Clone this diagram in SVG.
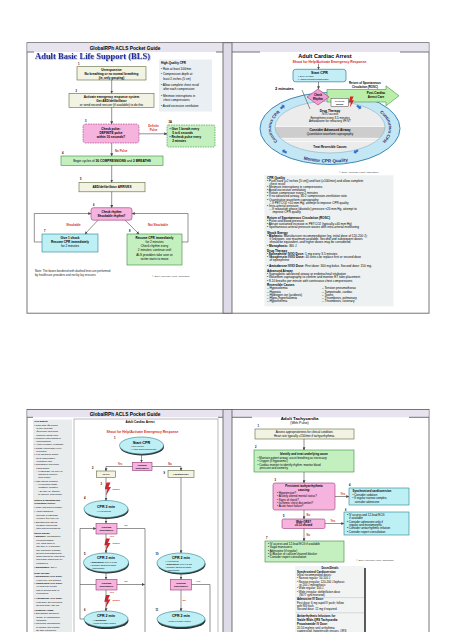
<svg xmlns="http://www.w3.org/2000/svg" width="474" height="632" viewBox="0 0 474 632">
<defs>
<style>
text{font-family:"Liberation Sans",Arial,sans-serif}
.b{font-weight:bold}
.m{text-anchor:middle}
.r{fill:#d42a2a;font-weight:bold}
.n{font-size:2.6px;font-weight:bold}
.ln{stroke:#4a4a4a;stroke-width:0.6;fill:none}
.ar{marker-end:url(#ah)}
.cream{fill:#f3f3e3;stroke:#5a6a3a;stroke-width:0.6}
.green{fill:#c4f0c0;stroke:#3a8a3a;stroke-width:0.6}
.pink{fill:#f5b3de;stroke:#9a3a7a;stroke-width:0.6}
.cyan{fill:#bdf0f5;stroke:#2a8090;stroke-width:0.6}
.dash{stroke-dasharray:1.6 0.9}
.ell{fill:#bdeff5;stroke:#2a8090;stroke-width:0.6}
.shd{fill:#333}
.fr{fill:none;stroke:#666;stroke-width:0.9}
</style>
<marker id="ah" viewBox="0 0 6 6" refX="5.5" refY="3" markerWidth="3" markerHeight="3" markerUnits="userSpaceOnUse" orient="auto"><path d="M0,0 L6,3 L0,6 Z" fill="#4a4a4a"/></marker>
<path id="ra" d="M-2.6,-1.3 L0.4,-1.3 L0.4,-2.8 L3,0 L0.4,2.8 L0.4,1.3 L-2.6,1.3 Z"/>
<path id="bolt" d="M2,0 L6,0 L4,4.5 L6.5,4.5 L1.5,13 L2.8,6.8 L0.3,6.8 Z"/>
<clipPath id="inner"><ellipse cx="330" cy="127" rx="55" ry="26"/></clipPath>
<path id="pL" d="M278.9,142.5 A59,29 0 0 1 281.7,111.4"/>
<path id="pR" d="M378.3,111.4 A59,29 0 0 1 381.1,142.5"/>
<path id="pB" d="M287.6,154.5 A66,34 0 0 0 372.4,154.5"/>
<filter id="tsh" x="-5%" y="-20%" width="110%" height="140%"><feDropShadow dx="0.6" dy="0.6" stdDeviation="0.25" flood-color="#8a90c0"/></filter>
</defs>
<rect width="474" height="632" fill="#fff"/>

<g id="page-frames">
<rect x="27" y="42.7" width="402" height="270.5" fill="#fff" stroke="#666" stroke-width="0.9"/>
<rect x="27.5" y="43.2" width="195.5" height="8.8" fill="#e7e4ef"/>
<rect x="232" y="43.2" width="196.5" height="8.8" fill="#e7e4ef"/>
<rect x="223" y="42.7" width="9" height="270.5" fill="#dedae8" stroke="#666" stroke-width="0.9"/>
<path class="fr" d="M27,52H34M216,52H223M232,52H260M400,52H429"/>
<rect x="27" y="409.5" width="402" height="240" fill="#fff" stroke="#666" stroke-width="0.9"/>
<rect x="27.5" y="410" width="195.5" height="7.3" fill="#e7e4ef"/>
<rect x="232" y="410" width="196.5" height="7.3" fill="#e7e4ef"/>
<rect x="223" y="409.5" width="9" height="240" fill="#dedae8" stroke="#666" stroke-width="0.9"/>
<path class="fr" d="M27,417.3H33M218,417.3H223M232,417.3H252M409,417.3H429"/>
<text x="125" y="49.8" class="b m" font-size="4.8">GlobalRPh ACLS Pocket Guide</text>
<text x="125" y="415.6" class="b m" font-size="4.8">GlobalRPh ACLS Pocket Guide</text>
</g>

<!-- ============ BLS panel ============ -->
<g id="bls-title">
<text x="35" y="58.6" style="font-family:'Liberation Serif','Times New Roman',serif;fill:#1f2a9a" font-weight="bold" font-size="8.6" textLength="115" lengthAdjust="spacingAndGlyphs" filter="url(#tsh)">Adult Basic Life Support (BLS)</text>
</g>

<g id="bls-hq-cpr">
<rect x="159" y="59.5" width="53" height="52" fill="#e9eff3"/>
<text font-size="3"><tspan x="161" y="63.8" class="b">High-Quality CPR</tspan><tspan x="161" y="70.2">• Rate at least 100/min</tspan><tspan x="161" y="75">• Compression depth at</tspan><tspan x="163.2" y="79.5">least 2 inches (5 cm)</tspan><tspan x="161" y="85.8">• Allow complete chest recoil</tspan><tspan x="163.2" y="90.2">after each compression</tspan><tspan x="161" y="96.6">• Minimize interruptions in</tspan><tspan x="163.2" y="101">chest compressions</tspan><tspan x="161" y="107.4">• Avoid excessive ventilation</tspan></text>
</g>

<g id="bls-1">
<text x="78" y="64.8" class="n">1</text>
<rect x="77" y="66.7" width="69" height="13.3" class="cream"/>
<text class="m b" font-size="3.1"><tspan x="111.5" y="70.9">Unresponsive</tspan><tspan x="111.5" y="74.9">No breathing or no normal breathing</tspan><tspan x="111.5" y="78.7">(ie, only gasping)</tspan></text>
</g>

<g id="bls-2">
<text x="75.5" y="91.5" class="n">2</text>
<rect x="69" y="93.3" width="85" height="14" class="cream"/>
<text class="m" font-size="3.1"><tspan x="111.5" y="97.5" class="b">Activate emergency response system</tspan><tspan x="111.5" y="101.5" class="b">Get AED/defibrillator</tspan><tspan x="111.5" y="105.5">or send second rescuer (if available) to do this</tspan></text>
</g>

<g id="bls-3">
<text x="85" y="122" class="n">3</text>
<rect x="83" y="124" width="56" height="19" rx="2.5" class="pink dash"/>
<text class="m b" font-size="3.1"><tspan x="111" y="129.8">Check pulse:</tspan><tspan x="111" y="133.8">DEFINITE pulse</tspan><tspan x="111" y="137.8">within 10 seconds?</tspan></text>
</g>

<g id="bls-3a">
<text x="168.5" y="123" class="n">3A</text>
<rect x="167" y="125" width="48" height="22" rx="1.5" class="green dash"/>
<text class="b" font-size="3"><tspan x="169.5" y="130">• Give 1 breath every</tspan><tspan x="172.2" y="133.8">5 to 6 seconds</tspan><tspan x="169.5" y="137.8">• Recheck pulse every</tspan><tspan x="172.2" y="141.6">2 minutes</tspan></text>
</g>

<g id="bls-4">
<text x="62" y="153.6" class="n">4</text>
<rect x="61" y="156" width="102" height="9.3" class="green"/>
<text x="112" y="161.8" class="m" font-size="3.2">Begin cycles of <tspan class="b">30 COMPRESSIONS</tspan> and <tspan class="b">2 BREATHS</tspan></text>
</g>

<g id="bls-5">
<text x="80" y="180" class="n">5</text>
<rect x="79" y="182.3" width="66" height="9.5" class="cream"/>
<text x="112" y="188.1" class="m b" font-size="3.1">AED/defibrillator ARRIVES</text>
</g>

<g id="bls-6">
<text x="93" y="205.5" class="n">6</text>
<rect x="91" y="207.7" width="41" height="12.5" rx="2.5" class="pink"/>
<text class="m b" font-size="3"><tspan x="111.5" y="212.8">Check rhythm</tspan><tspan x="111.5" y="216.8">Shockable rhythm?</tspan></text>
</g>

<g id="bls-7">
<text x="44" y="231.8" class="n">7</text>
<rect x="42" y="234" width="56" height="18" class="cyan"/>
<text class="m" font-size="3.1"><tspan x="70" y="238.6" class="b">Give 1 shock</tspan><tspan x="70" y="242.9" class="b">Resume CPR immediately</tspan><tspan x="70" y="247.2">for 2 minutes</tspan></text>
</g>

<g id="bls-8">
<text x="129" y="231.8" class="n">8</text>
<rect x="127" y="234" width="55" height="31" class="green"/>
<text class="m" font-size="3.1"><tspan x="154.5" y="238.6" class="b">Resume CPR immediately</tspan><tspan x="154.5" y="242.5">for 2 minutes</tspan><tspan x="154.5" y="246.8">Check rhythm every</tspan><tspan x="154.5" y="251.1">2 minutes; continue until</tspan><tspan x="154.5" y="255.5">ALS providers take over or</tspan><tspan x="154.5" y="259.9">victim starts to move</tspan></text>
</g>

<g id="bls-labels">
<text class="r m" font-size="2.9"><tspan x="153.5" y="127.4">Definite</tspan><tspan x="153.5" y="130.8">Pulse</tspan></text>
<text x="115" y="151.6" class="r" font-size="2.9">No Pulse</text>
<text x="73.5" y="226.2" class="r m" font-size="2.9">Shockable</text>
<text x="158" y="226.2" class="r m" font-size="2.9">Not Shockable</text>
<text font-size="2.9" fill="#222"><tspan x="35" y="272.4">Note: The boxes bordered with dashed lines are performed</tspan><tspan x="35" y="276.4">by healthcare providers and not by lay rescuers</tspan></text>
<text x="152" y="276.6" font-size="2.4" fill="#333">© 2010 American Heart Association</text>
</g>

<g id="bls-connectors" class="ln">
<path class="ar" d="M111.7,80V93.3"/>
<path class="ar" d="M111.7,107.3V124"/>
<path class="ar" d="M139,133.8H167"/>
<path class="ar" d="M111.7,143V156"/>
<path class="ar" d="M111.7,165.3V182.3"/>
<path class="ar" d="M111.7,191.8V207.7"/>
<path class="ar" d="M98,220.2L85,234"/>
<path class="ar" d="M125,220.2L139,234"/>
<path class="ar" d="M42,242H34.3V213.5H91"/>
<path class="ar" d="M182,242H188V213.5H132"/>
</g>

<!-- ============ Circular cardiac arrest panel ============ -->
<g id="ca-title">
<text x="325" y="57.6" class="b m" font-size="5.5">Adult Cardiac Arrest</text>
<text x="329.5" y="62.8" class="r m" font-size="3.4">Shout for Help/Activate Emergency Response</text>
</g>

<g id="ca-cycle">
<ellipse cx="330" cy="128.5" rx="70" ry="36" fill="#c3e7f4" stroke="#3b88b5" stroke-width="1"/>
<ellipse cx="330" cy="127" rx="55" ry="26" fill="#ececec"/>
<g clip-path="url(#inner)">
<rect x="270" y="126.5" width="120" height="11.8" fill="#cdcdcd"/>
<path d="M270,126.5H390M270,138.3H390M270,141.5H390" stroke="#fff" stroke-width="0.7"/>
</g>
<ellipse cx="330" cy="127" rx="55" ry="26" fill="none" stroke="#7fb0c8" stroke-width="0.6"/>
<text class="m" font-size="2.9"><tspan x="330" y="111.8" class="b" font-size="3.2">Drug Therapy</tspan><tspan x="330" y="115.1">IV/IO access</tspan><tspan x="330" y="118.5">Epinephrine every 3-5 minutes</tspan><tspan x="330" y="121.8">Amiodarone for refractory VF/VT</tspan><tspan x="330" y="131.1" class="b" font-size="3.2">Consider Advanced Airway</tspan><tspan x="330" y="134.6">Quantitative waveform capnography</tspan><tspan x="330" y="147.6" class="b">Treat Reversible Causes</tspan></text>
<text class="b" font-size="4.3" style="fill:#1c2f72"><textPath href="#pL" startOffset="50%" text-anchor="middle">Continuous CPR</textPath></text>
<text class="b" font-size="4.3" style="fill:#1c2f72"><textPath href="#pR" startOffset="50%" text-anchor="middle">Continuous CPR</textPath></text>
<text class="b" font-size="4.6" style="fill:#1c2f72"><textPath href="#pB" startOffset="45%" text-anchor="middle">Monitor CPR Quality</textPath></text>
<g fill="#2f6fc4" stroke="#fff" stroke-width="0.3">
<use href="#ra" transform="translate(282.5,107) rotate(-40)"/>
<use href="#ra" transform="translate(359,107) rotate(35)"/>
<use href="#ra" transform="translate(356,151.5) rotate(150)"/>
<use href="#ra" transform="translate(284.5,151.5) rotate(-150)"/>
</g>
</g>

<g id="ca-rosc">
<polygon points="327,89.5 386,89.5 386,85.8 399,95.8 386,105.8 386,102 327,102" fill="#b9efa8" stroke="#4a9040" stroke-width="0.6"/>
<text class="m b" font-size="2.9"><tspan x="365" y="84.4">Return of Spontaneous</tspan><tspan x="365" y="87.7">Circulation (ROSC)</tspan></text>
<text class="m b" font-size="3"><tspan x="376" y="94.4">Post-Cardiac</tspan><tspan x="376" y="97.9">Arrest Care</tspan></text>
</g>

<g id="ca-shock">
<rect x="331" y="98.3" width="17.5" height="8" fill="#fff" stroke="#444" stroke-width="0.5"/>
<text class="m b" font-size="2.5"><tspan x="339.7" y="101.6">If VF/VT</tspan><tspan x="339.7" y="104.9">Shock</tspan></text>
<use href="#bolt" fill="#e0202a" transform="translate(348.5,96.5) scale(0.85)"/>
</g>

<g id="ca-check-rhythm">
<polygon points="318,89 329,97 318,105 307,97" fill="#f19fd0" stroke="#9a3a7a" stroke-width="0.6"/>
<text class="m b" font-size="2.7"><tspan x="318" y="96.4">Check</tspan><tspan x="318" y="99.6">Rhythm</tspan></text>
</g>

<g id="ca-start">
<rect x="293" y="69.3" width="53" height="12.5" rx="2.5" fill="#c4eef6" stroke="#2a7fa0" stroke-width="0.7"/>
<text x="319.5" y="73.7" class="m b" font-size="3.6">Start CPR</text>
<text font-size="2.5"><tspan x="298" y="77.2">• Give oxygen</tspan><tspan x="298" y="80.3">• Attach monitor/defibrillator</tspan></text>
</g>

<g id="ca-2min">
<text x="275" y="89.6" class="b" font-size="4">2 minutes</text>
</g>

<g id="ca-connectors" class="ln">
<path class="ar" d="M318.5,63.8V69.3"/>
<path class="ar" d="M318.5,81.8V89"/>
<path d="M302,90L310,109"/>
</g>

<g id="ca-notes">
<text x="339" y="173.4" font-size="2.5" fill="#333">© 2010 American Heart Association</text>
<rect x="264.5" y="175.3" width="129" height="131" fill="#edf1f1"/>
<text font-size="3.1">
<tspan x="267" y="178.6" class="b">CPR Quality</tspan>
<tspan x="267" y="181.8">• Push hard (≥2 inches [5 cm]) and fast (≥100/min) and allow complete</tspan>
<tspan x="269.5" y="184.9">chest recoil</tspan>
<tspan x="267" y="188">• Minimize interruptions in compressions</tspan>
<tspan x="267" y="191.1">• Avoid excessive ventilation</tspan>
<tspan x="267" y="194.2">• Rotate compressor every 2 minutes</tspan>
<tspan x="267" y="197.3">• If no advanced airway, 30:2 compression-ventilation ratio</tspan>
<tspan x="267" y="200.5">• Quantitative waveform capnography</tspan>
<tspan x="269.5" y="203.7">– If PETCO2 &lt;10 mm Hg, attempt to improve CPR quality</tspan>
<tspan x="267" y="206.9">• Intra-arterial pressure</tspan>
<tspan x="269.5" y="210.1">– If relaxation phase (diastolic) pressure &lt;20 mm Hg, attempt to</tspan>
<tspan x="272.5" y="213.3">improve CPR quality</tspan>
<tspan x="267" y="218.8" class="b">Return of Spontaneous Circulation (ROSC)</tspan>
<tspan x="267" y="222">• Pulse and blood pressure</tspan>
<tspan x="267" y="225.2">• Abrupt sustained increase in PETCO2 (typically ≥40 mm Hg)</tspan>
<tspan x="267" y="228.4">• Spontaneous arterial pressure waves with intra-arterial monitoring</tspan>
<tspan x="267" y="233.8" class="b">Shock Energy</tspan>
<tspan x="267" y="237">• <tspan class="b">Biphasic:</tspan> Manufacturer recommendation (eg, initial dose of 120-200 J);</tspan>
<tspan x="269.5" y="240.2">if unknown, use maximum available. Second and subsequent doses</tspan>
<tspan x="269.5" y="243.4">should be equivalent, and higher doses may be considered.</tspan>
<tspan x="267" y="246.6">• <tspan class="b">Monophasic:</tspan> 360 J</tspan>
<tspan x="267" y="251.8" class="b">Drug Therapy</tspan>
<tspan x="267" y="255">• <tspan class="b">Epinephrine IV/IO Dose:</tspan> 1 mg every 3-5 minutes</tspan>
<tspan x="267" y="258.2">• <tspan class="b">Vasopressin IV/IO Dose:</tspan> 40 units can replace first or second dose</tspan>
<tspan x="269.5" y="261.4">of epinephrine</tspan>
<tspan x="267" y="266.6">• <tspan class="b">Amiodarone IV/IO Dose:</tspan> First dose: 300 mg bolus. Second dose: 150 mg.</tspan>
<tspan x="267" y="272" class="b">Advanced Airway</tspan>
<tspan x="267" y="275.2">• Supraglottic advanced airway or endotracheal intubation</tspan>
<tspan x="267" y="278.4">• Waveform capnography to confirm and monitor ET tube placement</tspan>
<tspan x="267" y="281.6">• 8-10 breaths per minute with continuous chest compressions</tspan>
<tspan x="267" y="286" class="b">Reversible Causes</tspan>
<tspan x="267" y="289.3">– Hypovolemia</tspan><tspan x="322" y="289.3">– Tension pneumothorax</tspan>
<tspan x="267" y="292.5">– Hypoxia</tspan><tspan x="322" y="292.5">– Tamponade, cardiac</tspan>
<tspan x="267" y="295.7">– Hydrogen ion (acidosis)</tspan><tspan x="322" y="295.7">– Toxins</tspan>
<tspan x="267" y="298.9">– Hypo-/hyperkalemia</tspan><tspan x="322" y="298.9">– Thrombosis, pulmonary</tspan>
<tspan x="267" y="302.1">– Hypothermia</tspan><tspan x="322" y="302.1">– Thrombosis, coronary</tspan>
</text>
</g>

<!-- ============ Cardiac arrest linear panel ============ -->
<g id="ca2-sidebar">
<rect x="33" y="419.5" width="39" height="215" fill="#e9ecec"/>
<text font-size="2.35">
<tspan x="34.3" y="422.3" class="b">CPR Quality</tspan>
<tspan x="34.3" y="425.6">• Push hard (≥2 inches</tspan>
<tspan x="36.3" y="428.9">[5 cm]) and fast</tspan>
<tspan x="36.3" y="432.2">(≥100/min) and allow</tspan>
<tspan x="36.3" y="435.5">complete chest recoil</tspan>
<tspan x="34.3" y="438.8">• Minimize interruptions in</tspan>
<tspan x="36.3" y="442.1">compressions</tspan>
<tspan x="34.3" y="445.4">• Avoid excessive ventilation</tspan>
<tspan x="34.3" y="448.7">• Rotate compressor every</tspan>
<tspan x="36.3" y="452">2 minutes</tspan>
<tspan x="34.3" y="455.3">• If no advanced airway,</tspan>
<tspan x="36.3" y="458.6">30:2 compression-</tspan>
<tspan x="36.3" y="461.9">ventilation ratio</tspan>
<tspan x="34.3" y="465.2">• Quantitative waveform</tspan>
<tspan x="36.3" y="468.5">capnography</tspan>
<tspan x="36.3" y="471.8">– If PETCO2 &lt;10 mm Hg,</tspan>
<tspan x="38.3" y="475.1">attempt to improve</tspan>
<tspan x="38.3" y="478.4">CPR quality</tspan>
<tspan x="34.3" y="481.7">• Intra-arterial pressure</tspan>
<tspan x="36.3" y="485">– If relaxation phase</tspan>
<tspan x="38.3" y="488.3">(diastolic) pressure</tspan>
<tspan x="38.3" y="491.6">&lt;20 mm Hg, attempt</tspan>
<tspan x="38.3" y="494.9">to improve CPR quality</tspan>
<tspan x="34.3" y="501" class="b">Return of Spontaneous</tspan>
<tspan x="34.3" y="504.3" class="b">Circulation (ROSC)</tspan>
<tspan x="34.3" y="507.9">• Pulse and blood pressure</tspan>
<tspan x="34.3" y="511.7">• Abrupt sustained</tspan>
<tspan x="36.3" y="515.5">increase in PETCO2</tspan>
<tspan x="36.3" y="519.1">(typically ≥40 mm Hg)</tspan>
<tspan x="34.3" y="522.7">• Spontaneous arterial</tspan>
<tspan x="36.3" y="526">pressure waves with</tspan>
<tspan x="36.3" y="529.3">intra-arterial monitoring</tspan>
<tspan x="34.3" y="534" class="b">Shock Energy</tspan>
<tspan x="34.3" y="537.3">• <tspan class="b">Biphasic:</tspan> Manufacturer</tspan>
<tspan x="36.3" y="540.6">recommendation</tspan>
<tspan x="36.3" y="543.9">(eg, initial dose of</tspan>
<tspan x="36.3" y="547.2">120-200 J); if unknown,</tspan>
<tspan x="36.3" y="550.5">use maximum available.</tspan>
<tspan x="36.3" y="553.8">Second and subsequent</tspan>
<tspan x="36.3" y="557.1">doses should be equivalent,</tspan>
<tspan x="36.3" y="560.4">and higher doses may be</tspan>
<tspan x="36.3" y="563.7">considered.</tspan>
<tspan x="34.3" y="568.2">• <tspan class="b">Monophasic:</tspan> 360 J</tspan>
<tspan x="34.3" y="574" class="b">Drug Therapy</tspan>
<tspan x="34.3" y="577.3">• <tspan class="b">Epinephrine IV/IO Dose:</tspan></tspan>
<tspan x="36.3" y="580.6">1 mg every 3-5 minutes</tspan>
<tspan x="34.3" y="583.9">• <tspan class="b">Vasopressin IV/IO Dose:</tspan></tspan>
<tspan x="36.3" y="587.2">40 units can replace</tspan>
<tspan x="36.3" y="590.5">first or second dose of</tspan>
<tspan x="36.3" y="593.8">epinephrine</tspan>
<tspan x="34.3" y="599.2">• <tspan class="b">Amiodarone IV/IO Dose:</tspan></tspan>
<tspan x="36.3" y="602.5">First dose: 300 mg bolus.</tspan>
<tspan x="36.3" y="605.8">Second dose: 150 mg.</tspan>
<tspan x="34.3" y="611" class="b">Advanced Airway</tspan>
<tspan x="34.3" y="614.3">• Supraglottic advanced</tspan>
<tspan x="36.3" y="617.6">airway or endotracheal</tspan>
<tspan x="36.3" y="620.9">intubation</tspan>
<tspan x="34.3" y="624.2">• Waveform capnography</tspan>
<tspan x="36.3" y="627.5">to confirm and monitor</tspan>
<tspan x="36.3" y="630.8">ET tube placement</tspan>
</text>
</g>

<g id="ca2-frame">
<rect x="74" y="419" width="144" height="230" fill="none" stroke="#8a8a8a" stroke-width="0.6"/>
<text x="140" y="423.2" class="b m" font-size="3">Adult Cardiac Arrest</text>
<text x="142.5" y="432.6" class="r m" font-size="3.3">Shout for Help/Activate Emergency Response</text>
</g>

<g id="ca2-1">
<text x="114" y="439.3" class="n">1</text>
<ellipse cx="142" cy="447" rx="22" ry="8.5" class="shd"/>
<ellipse cx="141.5" cy="445.5" rx="22" ry="8.5" class="ell"/>
<text x="141.5" y="443.6" class="m b" font-size="3.8">Start CPR</text>
<text font-size="2.1"><tspan x="131" y="447.3">• Give oxygen</tspan><tspan x="131" y="450.2">• Attach monitor/defibrillator</tspan></text>
</g>

<g id="ca2-rhythm-1">
<rect x="132.5" y="462.3" width="19.5" height="8.4" class="pink"/>
<text class="m b" font-size="2.4"><tspan x="142.2" y="465.8">Rhythm</tspan><tspan x="142.2" y="469">shockable?</tspan></text>
</g>

<g id="ca2-2">
<text x="92" y="469" class="n">2</text>
<rect x="96.5" y="471" width="19" height="6.5" class="cream"/>
<text x="106" y="475.3" class="m b" font-size="2.5">VF/VT</text>
</g>

<g id="ca2-9">
<text x="163.5" y="474.2" class="n">9</text>
<rect x="168" y="470.5" width="26" height="7" class="cream"/>
<text x="181" y="475" class="m b" font-size="2.5">Asystole/PEA</text>
</g>

<g id="ca2-3">
<text x="100.5" y="485" class="n">3</text>
<use href="#bolt" fill="#e0202a" transform="translate(104.5,482.5)"/>
<text x="112.5" y="489.5" class="r" font-size="2.5">Shock</text>
</g>

<g id="ca2-4">
<text x="84" y="499.4" class="n">4</text>
<ellipse cx="106.5" cy="510.5" rx="22" ry="8.5" class="shd"/>
<ellipse cx="106" cy="509" rx="22" ry="8.5" class="ell"/>
<text x="106" y="507.8" class="m b" font-size="3.6">CPR 2 min</text>
<text x="97" y="511.8" font-size="2.2">• IV/IO access</text>
</g>

<g id="ca2-rhythm-2">
<rect x="96" y="523.3" width="21" height="10.7" class="pink"/>
<text class="m b" font-size="2.5"><tspan x="106.5" y="527.8">Rhythm</tspan><tspan x="106.5" y="531.3">shockable?</tspan></text>
</g>

<g id="ca2-shock-2">
<use href="#bolt" fill="#e0202a" transform="translate(104,538.5)"/>
<text x="112.5" y="544" class="r" font-size="2.5">Shock</text>
</g>

<g id="ca2-5">
<text x="84" y="555.2" class="n">5</text>
<ellipse cx="106.5" cy="564" rx="22.5" ry="9.5" class="shd"/>
<ellipse cx="106" cy="562.5" rx="22.5" ry="9.5" class="ell"/>
<text x="106" y="559.3" class="m b" font-size="3.6">CPR 2 min</text>
<text font-size="2.1"><tspan x="90.5" y="563.2">• <tspan class="b">Epinephrine</tspan> every 3-5 min</tspan><tspan x="90.5" y="566.2">• Consider advanced airway,</tspan><tspan x="92.5" y="569.2">capnography</tspan></text>
</g>

<g id="ca2-rhythm-3">
<rect x="96" y="579.3" width="21" height="10.7" class="pink"/>
<text class="m b" font-size="2.5"><tspan x="106.5" y="583.8">Rhythm</tspan><tspan x="106.5" y="587.3">shockable?</tspan></text>
</g>

<g id="ca2-shock-3">
<use href="#bolt" fill="#e0202a" transform="translate(104,595)"/>
<text x="112.5" y="600.7" class="r" font-size="2.5">Shock</text>
</g>

<g id="ca2-6">
<text x="84" y="611.2" class="n">6</text>
<ellipse cx="106.5" cy="620.8" rx="22" ry="8.2" class="shd"/>
<ellipse cx="106" cy="619" rx="22" ry="8" class="ell"/>
<text x="106" y="616.8" class="m b" font-size="3.6">CPR 2 min</text>
<text font-size="2.1"><tspan x="93" y="620.6">• <tspan class="b">Amiodarone</tspan></tspan><tspan x="93" y="623.6">• Treat reversible causes</tspan></text>
</g>

<g id="ca2-10">
<text x="155.5" y="555.2" class="n">10</text>
<ellipse cx="181.5" cy="564.5" rx="24" ry="10" class="shd"/>
<ellipse cx="181" cy="563" rx="24" ry="10" class="ell"/>
<text x="181" y="558.9" class="m b" font-size="3.6">CPR 2 min</text>
<text font-size="2.1"><tspan x="165.5" y="562.4">• IV/IO access</tspan><tspan x="165.5" y="565.4">• <tspan class="b">Epinephrine</tspan> every 3-5 min</tspan><tspan x="165.5" y="568.4">• Consider advanced airway,</tspan><tspan x="167.5" y="571.4">capnography</tspan></text>
</g>

<g id="ca2-rhythm-4">
<rect x="170.5" y="579.3" width="21" height="10.7" class="pink"/>
<text class="m b" font-size="2.5"><tspan x="181" y="583.8">Rhythm</tspan><tspan x="181" y="587.3">shockable?</tspan></text>
</g>

<g id="ca2-11">
<text x="155.5" y="611.2" class="n">11</text>
<ellipse cx="181.5" cy="620.8" rx="24" ry="8.2" class="shd"/>
<ellipse cx="181" cy="619" rx="24" ry="8" class="ell"/>
<text x="181" y="617" class="m b" font-size="3.6">CPR 2 min</text>
<text x="168" y="621.6" font-size="2.1">• Treat reversible causes</text>
</g>

<g id="ca2-labels">
<text x="120" y="464.5" class="r m" font-size="2.6">Yes</text>
<text x="170" y="464.5" class="r m" font-size="2.6">No</text>
<text x="124.5" y="526.2" class="r" font-size="2.5">No</text>
<text x="109.5" y="537.2" class="r" font-size="2.5">Yes</text>
<text x="124.5" y="582.2" class="r" font-size="2.5">No</text>
<text x="109.5" y="593.2" class="r" font-size="2.5">Yes</text>
<text x="196" y="582" class="r" font-size="2.5">Yes</text>
<text x="182.5" y="601.2" class="r" font-size="2.5">No</text>
</g>

<g id="ca2-connectors" class="ln">
<path class="ar" d="M141.5,454V462.3"/>
<path class="ar" d="M132.5,466.5H106V471"/>
<path class="ar" d="M152,466.5H181V470.5"/>
<path class="ar" d="M106,477.5V500.5"/>
<path class="ar" d="M106,517.5V523.3"/>
<path d="M117,528.5H145V640"/>
<path class="ar" d="M106,534V553"/>
<path class="ar" d="M106,572V579.3"/>
<path class="ar" d="M117,584.5H144.6"/>
<path class="ar" d="M106,590V611"/>
<path class="ar" d="M84,619H80V528.5H96"/>
<path d="M96,584.5H80"/>
<path class="ar" d="M181,477.5V553"/>
<path class="ar" d="M181,573V579.3"/>
<path d="M191.5,584.5H210V640"/>
<path class="ar" d="M181,590V611"/>
</g>

<!-- ============ Tachycardia panel ============ -->
<g id="tachy-title">
<text x="299.5" y="419.8" class="b m" font-size="4.4">Adult Tachycardia</text>
<text x="299.5" y="424" class="m" font-size="3.4">(With Pulse)</text>
</g>

<g id="tachy-1">
<text x="257.5" y="426.8" class="n">1</text>
<rect x="255" y="429" width="99" height="10" class="cream"/>
<text class="m" font-size="2.9"><tspan x="304.5" y="432.9">Assess appropriateness for clinical condition.</tspan><tspan x="304.5" y="436.6">Heart rate typically ≥150/min if tachyarrhythmia.</tspan></text>
</g>

<g id="tachy-2">
<text x="255" y="447.6" class="n">2</text>
<rect x="254" y="450" width="100" height="22" class="green"/>
<text x="304" y="454.6" class="m b" font-size="2.9">Identify and treat underlying cause</text>
<text font-size="2.85"><tspan x="257.5" y="458.5">• Maintain patent airway; assist breathing as necessary</tspan><tspan x="257.5" y="462">• Oxygen (if hypoxemic)</tspan><tspan x="257.5" y="465.5">• Cardiac monitor to identify rhythm; monitor blood</tspan><tspan x="259.7" y="469">pressure and oximetry</tspan></text>
</g>

<g id="tachy-3">
<text x="274.5" y="481" class="n">3</text>
<rect x="273" y="483" width="62" height="27" rx="2" class="pink"/>
<text class="m b" font-size="2.9"><tspan x="304" y="487.4">Persistent tachyarrhythmia</tspan><tspan x="304" y="490.6">causing:</tspan></text>
<text font-size="2.85"><tspan x="277" y="494.1">• Hypotension?</tspan><tspan x="277" y="497.4">• Acutely altered mental status?</tspan><tspan x="277" y="500.7">• Signs of shock?</tspan><tspan x="277" y="504">• Ischemic chest discomfort?</tspan><tspan x="277" y="507.3">• Acute heart failure?</tspan></text>
</g>

<g id="tachy-4">
<text x="349" y="486.2" class="n">4</text>
<rect x="349" y="488" width="60" height="17" class="cyan"/>
<text x="352.5" y="492.3" class="b" font-size="2.9">Synchronized cardioversion</text>
<text font-size="2.85"><tspan x="352.5" y="495.9">• Consider sedation</tspan><tspan x="352.5" y="499.2">• If regular narrow complex,</tspan><tspan x="354.7" y="502.5">consider adenosine</tspan></text>
</g>

<g id="tachy-5">
<text x="283" y="516.6" class="n">5</text>
<rect x="282" y="519" width="43" height="9.5" rx="1.5" class="pink"/>
<text class="m b" font-size="2.8"><tspan x="303.5" y="522.9">Wide QRS?</tspan><tspan x="303.5" y="526.3">≥0.12 second</tspan></text>
</g>

<g id="tachy-6">
<text x="345" y="510.6" class="n">6</text>
<rect x="344" y="512" width="65" height="23" class="cyan"/>
<text font-size="2.9"><tspan x="347" y="516">• IV access and 12-lead ECG</tspan><tspan x="349.2" y="519.3">if available</tspan><tspan x="347" y="522.6">• Consider adenosine only if</tspan><tspan x="349.2" y="525.9">regular and monomorphic</tspan><tspan x="347" y="529.2">• Consider antiarrhythmic infusion</tspan><tspan x="347" y="532.5">• Consider expert consultation</tspan></text>
</g>

<g id="tachy-7">
<text x="266" y="539" class="n">7</text>
<rect x="265" y="541" width="79" height="21" class="green"/>
<text font-size="2.9"><tspan x="268" y="545.1">• IV access and 12-lead ECG if available</tspan><tspan x="268" y="548.4">• Vagal maneuvers</tspan><tspan x="268" y="551.7">• Adenosine (if regular)</tspan><tspan x="268" y="555">• β-Blocker or calcium channel blocker</tspan><tspan x="268" y="558.3">• Consider expert consultation</tspan></text>
</g>

<g id="tachy-labels">
<text x="340.5" y="494.6" class="r" font-size="2.7">Yes</text>
<text x="306.5" y="516" class="r" font-size="2.7">No</text>
<text x="330.5" y="522" class="r" font-size="2.7">Yes</text>
<text x="306.5" y="535.5" class="r" font-size="2.7">No</text>
<text x="356" y="561.4" font-size="2.4" fill="#333">© 2010 American Heart Association</text>
</g>

<g id="tachy-connectors" class="ln">
<path class="ar" d="M304,439V450"/>
<path class="ar" d="M304,472V483"/>
<path class="ar" d="M335,496.5H349"/>
<path class="ar" d="M304,510V519"/>
<path class="ar" d="M325,523.5H344"/>
<path class="ar" d="M304,528.5V541"/>
</g>

<g id="tachy-doses">
<rect x="295" y="566" width="70" height="70" fill="#f2f3f3"/>
<path d="M365,568V632" stroke="#333" stroke-width="1.6"/>
<path d="M296,597.6H364M296,612.8H364" stroke="#bbb" stroke-width="0.5"/>
<text x="330" y="569" class="m b" font-size="2.6">Doses/Details</text>
<text font-size="2.85">
<tspan x="297" y="572.8" class="b">Synchronized Cardioversion</tspan>
<tspan x="297" y="576">Initial recommended doses:</tspan>
<tspan x="297" y="579.3">• Narrow regular: 50-100 J</tspan>
<tspan x="297" y="582.6">• Narrow irregular: 120-200 J biphasic</tspan>
<tspan x="299.2" y="585.9">or 200 J monophasic</tspan>
<tspan x="297" y="589.2">• Wide regular: 100 J</tspan>
<tspan x="297" y="592.5">• Wide irregular: defibrillation dose</tspan>
<tspan x="299.2" y="595.8">(NOT synchronized)</tspan>
<tspan x="297" y="600.3" class="b">Adenosine IV Dose:</tspan>
<tspan x="297" y="603.6">First dose: 6 mg rapid IV push; follow</tspan>
<tspan x="297" y="606.9">with NS flush.</tspan>
<tspan x="297" y="610.2">Second dose: 12 mg if required.</tspan>
<tspan x="297" y="617.2" class="b">Antiarrhythmic Infusions for</tspan>
<tspan x="297" y="620.5" class="b">Stable Wide-QRS Tachycardia</tspan>
<tspan x="297" y="625.2" class="b">Procainamide IV Dose:</tspan>
<tspan x="297" y="628.5">20-50 mg/min until arrhythmia</tspan>
<tspan x="297" y="631.8">suppressed, hypotension ensues, QRS</tspan>
</text>
</g>
</svg>
